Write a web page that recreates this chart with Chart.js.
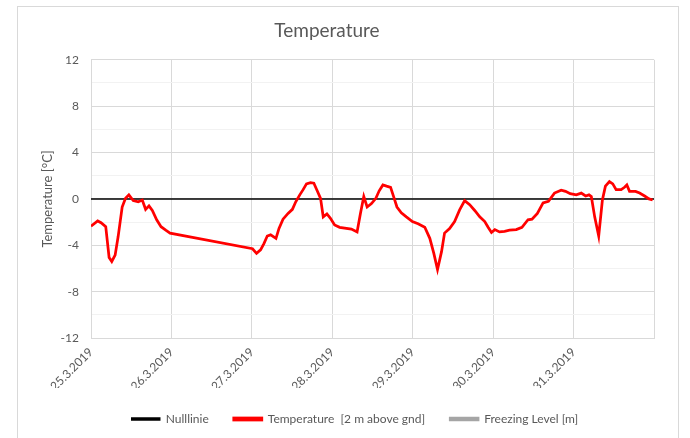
<!DOCTYPE html>
<html>
<head>
<meta charset="utf-8">
<script src="https://cdn.jsdelivr.net/npm/chart.js@4.4.0/dist/chart.umd.min.js"></script>
<style>
  html, body { margin: 0; padding: 0; background: #fff; }
  #wrap { position: relative; width: 690px; height: 438px; }
  #frame {
    position: absolute; left: 17px; top: 6px; width: 662px; height: 440px;
    border: 1px solid #d9d9d9; box-sizing: border-box; pointer-events: none;
  }
</style>
</head>
<body>
<div id="wrap">
  <canvas id="tempChart" width="690" height="438"></canvas>
  <div id="frame"></div>
</div>
<script>
// hours since 25.3.2019 00:00
const hours = [
  0, 2, 3, 4.4, 5.4, 6.2, 7.2, 8.1, 9.3, 10.3, 11.3, 12.6, 14.1, 15.3, 16.3, 17.3,
  18.3, 19.6, 20.9, 22.3, 23.6,
  48.2, 49.4, 50.6, 51.6, 52.6, 53.6, 55.2, 56.1, 57.3, 58.8, 60.1, 61.1, 62.3, 63.3,
  64.3, 65.5, 66.5, 67.5, 68.5, 69.3, 70.4, 71.4, 72.7, 74.2, 77.7, 79.4, 80.4, 81.4,
  82.4, 83.7, 85, 86, 87.1, 88.2, 89.4, 90.3, 91.3, 92.6, 94.1, 95.9, 97.6, 99.6,
  101.1, 102.3, 103.4, 104.6, 105.5, 107, 108.5, 110, 111.5, 113, 114.5, 116, 117.5,
  118.5, 119.5, 120.5, 121.9, 123.4, 124.9, 126.9, 128.6, 130.4, 131.6, 133.2, 134.9,
  136.5, 138.3, 140.3, 141.6, 143, 144.8, 146.3, 147.6, 148.6, 149.3, 150.3, 151.5,
  152.6, 153.5, 154.7, 155.7, 156.7, 158.2, 159.2, 159.9, 160.7, 162.5, 163.7, 165.2,
  166.5, 167.6
];
const temperature = [
  -2.35, -1.9, -2.05, -2.4, -5.05, -5.4, -4.85, -3.25, -0.7, 0.05, 0.35, -0.15, -0.25, -0.1, -0.9, -0.6,
  -1.0, -1.8, -2.4, -2.7, -2.95,
  -4.3, -4.7, -4.4, -3.85, -3.2, -3.1, -3.4, -2.55, -1.75, -1.25, -0.9, -0.25, 0.35, 0.8,
  1.3, 1.4, 1.35, 0.7, 0.05, -1.55, -1.3, -1.65, -2.25, -2.45, -2.6, -2.85, -1.25, 0.2,
  -0.7, -0.4, 0.05, 0.7, 1.2, 1.1, 1.0, 0.2, -0.7, -1.2, -1.55, -1.95, -2.15, -2.45,
  -3.4, -4.7, -6.1, -4.55, -2.95, -2.55, -1.95, -0.95, -0.15, -0.5, -1.0, -1.55, -1.95,
  -2.45, -2.9, -2.65, -2.85, -2.8, -2.7, -2.65, -2.45, -1.8, -1.75, -1.25, -0.35,
  -0.2, 0.5, 0.75, 0.65, 0.45, 0.35, 0.5, 0.25, 0.35, 0.2, -1.55, -3.2,
  -0.1, 1.1, 1.5, 1.3, 0.8, 0.8, 1.0, 1.2, 0.65, 0.65, 0.5, 0.25,
  0.0, -0.1
];
const nullHours = [0, 168];
const nullValues = [0, 0];
const freezingLevel = [];
const dateLabels = ["25.3.2019", "26.3.2019", "27.3.2019", "28.3.2019", "29.3.2019", "30.3.2019", "31.3.2019"];
const yTickLabels = [-12, -8, -4, 0, 4, 8, 12];

const FONT = "Lato, 'Open Sans', sans-serif";
const GREY = "#595959";
const PAD_BOTTOM = 3;

const toPoints = (xs, ys) => xs.map((x, i) => ({ x: x, y: ys[i] }));

// legend in the reference sits centred under the whole frame, not the plot
const shiftLegend = {
  id: "shiftLegend",
  afterLayout(chart) {
    chart.legend.left += 28;
    chart.legend.right += 28;
  },
};

new Chart(document.getElementById("tempChart"), {
  type: "line",
  data: {
    datasets: [
      {
        label: "Nulllinie",
        data: toPoints(nullHours, nullValues),
        borderColor: "#000000",
        backgroundColor: "#000000",
        borderWidth: 1.5,
        pointRadius: 0,
        order: 2,
      },
      {
        label: "Temperature  [2 m above gnd]",
        data: toPoints(hours, temperature),
        borderColor: "#ff0000",
        backgroundColor: "#ff0000",
        borderWidth: 2.75,
        pointRadius: 0,
        tension: 0,
        order: 1,
      },
      {
        label: "Freezing Level [m]",
        data: freezingLevel,
        borderColor: "#a5a5a5",
        backgroundColor: "#a5a5a5",
        borderWidth: 2.5,
        pointRadius: 0,
        order: 3,
      },
    ],
  },
  plugins: [shiftLegend],
  options: {
    responsive: false,
    animation: false,
    layout: { padding: { left: 0, right: 36, top: 0, bottom: PAD_BOTTOM } },
    plugins: {
      tooltip: { enabled: false },
      title: {
        display: true,
        text: "Temperature",
        color: GREY,
        font: { family: FONT, size: 19, weight: "normal" },
        padding: { top: 19, bottom: 18 },
      },
      legend: {
        position: "bottom",
        labels: {
          color: GREY,
          font: { family: FONT, size: 12 },
          boxWidth: 28,
          boxHeight: 2,
          padding: 25,
          sort: (a, b) => a.datasetIndex - b.datasetIndex,
        },
      },
    },
    scales: {
      x: {
        type: "linear",
        min: 0,
        max: 168,
        grid: { color: "#d9d9d9", drawTicks: false },
        border: { color: "#d9d9d9" },
        ticks: {
          stepSize: 24,
          autoSkip: false,
          maxRotation: 45,
          minRotation: 45,
          padding: 7,
          color: GREY,
          font: { family: FONT, size: 12 },
          callback: (v) => dateLabels[v / 24] || "",
        },
        afterFit: (scale) => {
          const legendH = scale.chart.legend ? scale.chart.legend.height : 40;
          scale.height = scale.chart.height - PAD_BOTTOM - legendH - 338;
        },
      },
      y: {
        min: -12,
        max: 12,
        grid: {
          drawTicks: false,
          color: (ctx) => (yTickLabels.includes(ctx.tick.value) ? "#d9d9d9" : "#f2f2f2"),
        },
        border: { color: "#d9d9d9" },
        ticks: {
          stepSize: 1,
          padding: 12,
          color: GREY,
          font: { family: FONT, size: 12 },
          callback: (v) => (yTickLabels.includes(v) ? String(v) : ""),
        },
        title: {
          display: true,
          text: "Temperature [°C]",
          color: GREY,
          font: { family: FONT, size: 13 },
          padding: { top: 40, bottom: 0 },
        },
        afterFit: (scale) => {
          scale.width = 91;
        },
      },
    },
  },
});
</script>
</body>
</html>
